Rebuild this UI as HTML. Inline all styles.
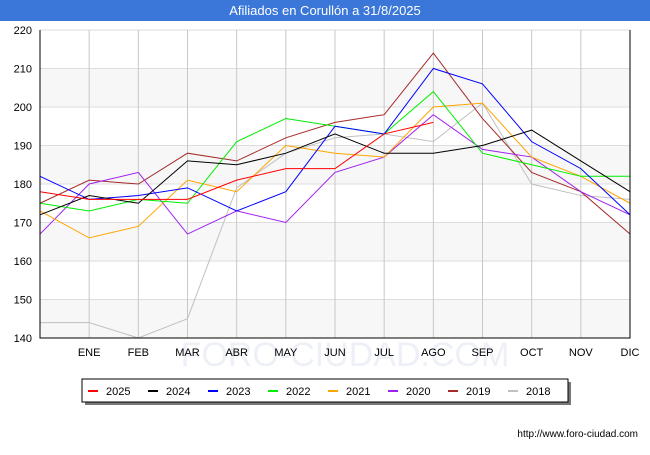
<!DOCTYPE html>
<html><head><meta charset="utf-8"><style>
body{margin:0;width:650px;height:450px;background:#fff;font-family:"Liberation Sans",sans-serif;overflow:hidden}
</style></head><body>
<svg width="650" height="450" xmlns="http://www.w3.org/2000/svg">
<rect x="0" y="0" width="650" height="21" fill="#3a77d9"/>
<text x="325" y="15" text-anchor="middle" fill="#fff" font-size="13">Afiliados en Corullón a 31/8/2025</text>
<g id="bands"></g><g id="grid"></g><g id="lines"></g><g id="axes"></g>
<text x="638" y="437" text-anchor="end" font-size="10" fill="#000">http://www.foro-ciudad.com</text>
<g id="legend"></g>
</svg>
<script>
const months=["","ENE","FEB","MAR","ABR","MAY","JUN","JUL","AGO","SEP","OCT","NOV","DIC"];
const yTicks=[140,150,160,170,180,190,200,210,220];
const seriesNames=["2025","2024","2023","2022","2021","2020","2019","2018"];
const seriesColors=["#ff0000","#000000","#0000ff","#00ee00","#ffa500","#a020f0","#a52a2a","#c0c0c0"];
const s2025=[178,176,176,176,181,184,184,193,196];
const s2024=[172,177,175,186,185,188,193,188,188,190,194,186,178];
const s2023=[182,176,177,179,173,178,195,193,210,206,191,184,172];
const s2022=[175,173,176,175,191,197,195,193,204,188,185,182,182];
const s2021=[173,166,169,181,178,190,188,187,200,201,187,182,175];
const s2020=[167,180,183,167,173,170,183,187,198,189,187,178,172];
const s2019=[175,181,180,188,186,192,196,198,214,197,183,178,167];
const s2018=[144,144,140,145,179,188,192,193,191,201,180,177,176];
const allSeries=[s2025,s2024,s2023,s2022,s2021,s2020,s2019,s2018];
const NS="http://www.w3.org/2000/svg";
const X0=40,X1=630,Y0=338,Y1=30;
const xs=i=>X0+i*(X1-X0)/12;
const ys=v=>Y0-(v-140)*(Y0-Y1)/80;
function mk(t,a,p){const e=document.createElementNS(NS,t);for(const k in a)e.setAttribute(k,a[k]);p.appendChild(e);return e;}
const bands=document.getElementById('bands'),grid=document.getElementById('grid'),lines=document.getElementById('lines'),axes=document.getElementById('axes'),legend=document.getElementById('legend');
for(let i=0;i<yTicks.length-1;i+=2){
 const r=mk('rect',{x:X0,y:ys(yTicks[i]+10),width:X1-X0,height:ys(yTicks[i])-ys(yTicks[i]+10),fill:'#f7f7f7'},bands);
 
 
}
yTicks.forEach(v=>{
 const l=mk('line',{x1:X0,x2:X1,y1:ys(v),y2:ys(v),stroke:'#dddddd','stroke-width':1},grid);
 
 
 const t=mk('text',{x:X0-8,y:ys(v)+4,'text-anchor':'end','font-size':11,fill:'#000'},axes);
 t.textContent=v;
 
 
});
months.forEach((m,i)=>{
 if(i>0){const l=mk('line',{x1:xs(i),x2:xs(i),y1:Y1,y2:Y0,stroke:'#c8c8c8','stroke-width':1},grid);
 
 }
 const t=mk('text',{x:xs(i),y:356,'text-anchor':'middle','font-size':11,fill:'#000'},axes);
 t.textContent=m;
 
 
});
const wm=mk('text',{x:345,y:366,'text-anchor':'middle','font-size':34,fill:'#eef0f8'},grid);
wm.textContent='FORO-CIUDAD.COM';


const ax=mk('path',{d:`M${X0},${Y1}V${Y0}H${X1}V${Y1}`,fill:'none',stroke:'#000','stroke-width':1},axes);


for(let k=allSeries.length-1;k>=0;k--){
 const d=allSeries[k].map((v,i)=>(i?'L':'M')+xs(i)+','+ys(v)).join('');
 const p=mk('path',{d:d,fill:'none',stroke:seriesColors[k],'stroke-width':1},lines);
 
 
}
const sh=mk('rect',{x:85,y:382,width:486,height:23,fill:'#777'},legend);


const lb=mk('rect',{x:82,y:379,width:486,height:23,fill:'#fff',stroke:'#000','stroke-width':1},legend);


seriesNames.forEach((n,k)=>{
 const x=88+k*60;
 const l=mk('line',{x1:x,x2:x+10,y1:391,y2:391,stroke:seriesColors[k],'stroke-width':2},legend);
 
 
 const t=mk('text',{x:x+18,y:395,'font-size':11,fill:'#000'},legend);
 t.textContent=n;
 
 
});
</script>
</body></html>
